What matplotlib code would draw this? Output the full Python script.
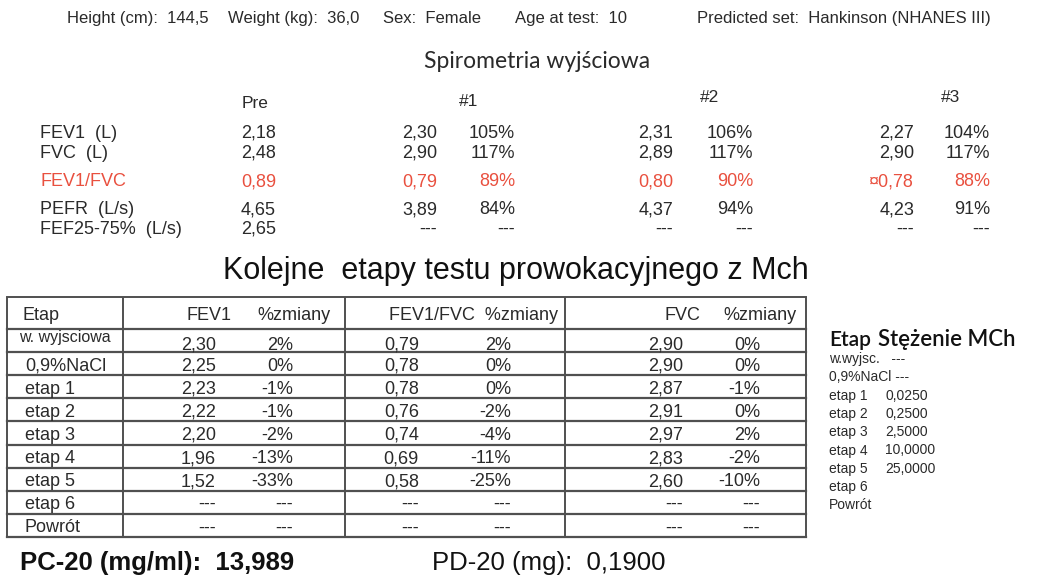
import matplotlib.pyplot as plt
from matplotlib import font_manager

names = set(f.name for f in font_manager.fontManager.ttflist)
SANS = 'Liberation Sans' if 'Liberation Sans' in names else 'DejaVu Sans'
CAL = 'Lato' if 'Lato' in names else SANS
plt.rcParams['font.family'] = [SANS, 'DejaVu Sans']

# --- dane ---
naglowek = ["Height (cm):  144,5", "Weight (kg):  36,0", "Sex:  Female",
            "Age at test:  10", "Predicted set:  Hankinson (NHANES III)"]

spiro_labels = ["FEV1  (L)", "FVC  (L)", "FEV1/FVC", "PEFR  (L/s)", "FEF25-75%  (L/s)"]
pre = ["2,18", "2,48", "0,89", "4,65", "2,65"]
t1 = ["2,30", "2,90", "0,79", "3,89", "---"]
p1 = ["105%", "117%", "89%", "84%", "---"]
t2 = ["2,31", "2,89", "0,80", "4,37", "---"]
p2 = ["106%", "117%", "90%", "94%", "---"]
t3 = ["2,27", "2,90", "\u00a40,78", "4,23", "---"]
p3 = ["104%", "117%", "88%", "91%", "---"]

etapy = ["w. wyjsciowa", "0,9%NaCl", "etap 1", "etap 2", "etap 3",
         "etap 4", "etap 5", "etap 6", "Powrót"]
fev1 = ["2,30", "2,25", "2,23", "2,22", "2,20", "1,96", "1,52", "---", "---"]
fev1_zm = ["2%", "0%", "-1%", "-1%", "-2%", "-13%", "-33%", "---", "---"]
ratio = ["0,79", "0,78", "0,78", "0,76", "0,74", "0,69", "0,58", "---", "---"]
ratio_zm = ["2%", "0%", "0%", "-2%", "-4%", "-11%", "-25%", "---", "---"]
fvc = ["2,90", "2,90", "2,87", "2,91", "2,97", "2,83", "2,60", "---", "---"]
fvc_zm = ["0%", "0%", "-1%", "0%", "2%", "-2%", "-10%", "---", "---"]

mch_etap = ["w.wyjsc.", "0,9%NaCl", "etap 1", "etap 2", "etap 3",
            "etap 4", "etap 5", "etap 6", "Powrót"]
mch_stez = ["---", "---", "0,0250", "0,2500", "2,5000", "10,0000", "25,0000", "", ""]

pc20 = "13,989"
pd20 = "0,1900"

TXT = '#2a2a2a'
RED = '#e9503f'
LINE = '#505050'

fig = plt.figure(figsize=(10.57, 5.83), dpi=100)
ax = fig.add_axes([0, 0, 1, 1])
ax.set_xlim(0, 1057)
ax.set_ylim(583, 0)
ax.axis('off')

# gorny wiersz
for x, s in zip([67, 228, 383, 515, 697], naglowek):
    ax.text(x, 23, s, fontsize=12, color=TXT, va='baseline', ha='left')

ax.text(537, 62, "Spirometria wyjściowa", family=CAL, fontsize=16.5, color=TXT,
        ha='center', va='center')

for x, y, s in zip([255, 469, 710, 951], [102, 100, 96, 96], ["Pre", "#1", "#2", "#3"]):
    ax.text(x, y + 6, s, fontsize=12.5, color=TXT, ha='center', va='baseline')

ys = [131, 151, 180, 208, 227]
for i, y in enumerate(ys):
    c = RED if spiro_labels[i] == "FEV1/FVC" else TXT
    kw = dict(fontsize=13, color=c, va='baseline')
    b = y + 6.5
    ax.text(40, b, spiro_labels[i], ha='left', **kw)
    ax.text(241, b, pre[i], ha='left', **kw)
    ax.text(437, b, t1[i], ha='right', **kw)
    ax.text(515, b, p1[i], ha='right', **kw)
    ax.text(673, b, t2[i], ha='right', **kw)
    ax.text(753, b, p2[i], ha='right', **kw)
    ax.text(914, b, t3[i], ha='right', **kw)
    ax.text(990, b, p3[i], ha='right', **kw)

ax.text(223, 279, "Kolejne  etapy testu prowokacyjnego z Mch", fontsize=22,
        color='#111111', ha='left', va='baseline')

# tabela
left, right, top, head_h, row_h = 7, 806, 297, 32, 23.1
bottom = top + head_h + row_h * len(etapy)
for x in [left, 123, 345, 565, right]:
    ax.plot([x, x], [top, bottom], color=LINE, lw=1.4, solid_capstyle='butt')
ax.plot([left, right], [top, top], color=LINE, lw=1.4)
for i in range(len(etapy) + 1):
    y = top + head_h + i * row_h
    ax.plot([left, right], [y, y], color=LINE, lw=1.6)

hb = top + head_h / 2 + 6.5
hkw = dict(fontsize=13, color=TXT, va='baseline')
ax.text(22, hb, "Etap", ha='left', **hkw)
ax.text(232, hb, "FEV1", ha='right', **hkw)
ax.text(331, hb, "%zmiany", ha='right', **hkw)
ax.text(558, hb, "FEV1/FVC  %zmiany", ha='right', **hkw)
ax.text(700, hb, "FVC", ha='right', **hkw)
ax.text(796, hb, "%zmiany", ha='right', **hkw)

for i, e in enumerate(etapy):
    yc = top + head_h + i * row_h + row_h / 2 + 0.5
    kw = dict(fontsize=13, color=TXT, va='baseline')
    b = yc + 6.5
    if i == 0:
        ax.text(19, yc + 1, e, ha='left', fontsize=11.5, color=TXT, va='baseline')
        b += 2
    else:
        ax.text(25, b, e, ha='left', **kw)
    ax.text(216, b, fev1[i], ha='right', **kw)
    ax.text(293, b, fev1_zm[i], ha='right', **kw)
    ax.text(419, b, ratio[i], ha='right', **kw)
    ax.text(511, b, ratio_zm[i], ha='right', **kw)
    ax.text(683, b, fvc[i], ha='right', **kw)
    ax.text(760, b, fvc_zm[i], ha='right', **kw)

# stezenia MCh
ax.text(829, 346, "Etap", family=CAL, fontsize=15, fontweight='semibold',
        color='#111111', ha='left', va='baseline')
ax.text(878, 346, "Stężenie MCh", family=CAL, fontsize=16, fontweight='semibold',
        color='#111111', ha='left', va='baseline')
for i, (e, v) in enumerate(zip(mch_etap, mch_stez)):
    b = 358 + i * 18.3 + 5
    kw = dict(fontsize=10, color=TXT, ha='left', va='baseline')
    if v == "---":
        ax.text(829, b, e + ("   " if i == 0 else " ") + v, **kw)
    else:
        ax.text(829, b, e, **kw)
        ax.text(885, b, v, **kw)

ax.text(20, 570, "PC-20 (mg/ml):  " + pc20, fontsize=18.5, fontweight='bold',
        color='#111111', ha='left', va='baseline')
ax.text(432, 570, "PD-20 (mg):  " + pd20, fontsize=18.5, color='#111111',
        ha='left', va='baseline')

fig.savefig('out.png', dpi=100, facecolor='white')
